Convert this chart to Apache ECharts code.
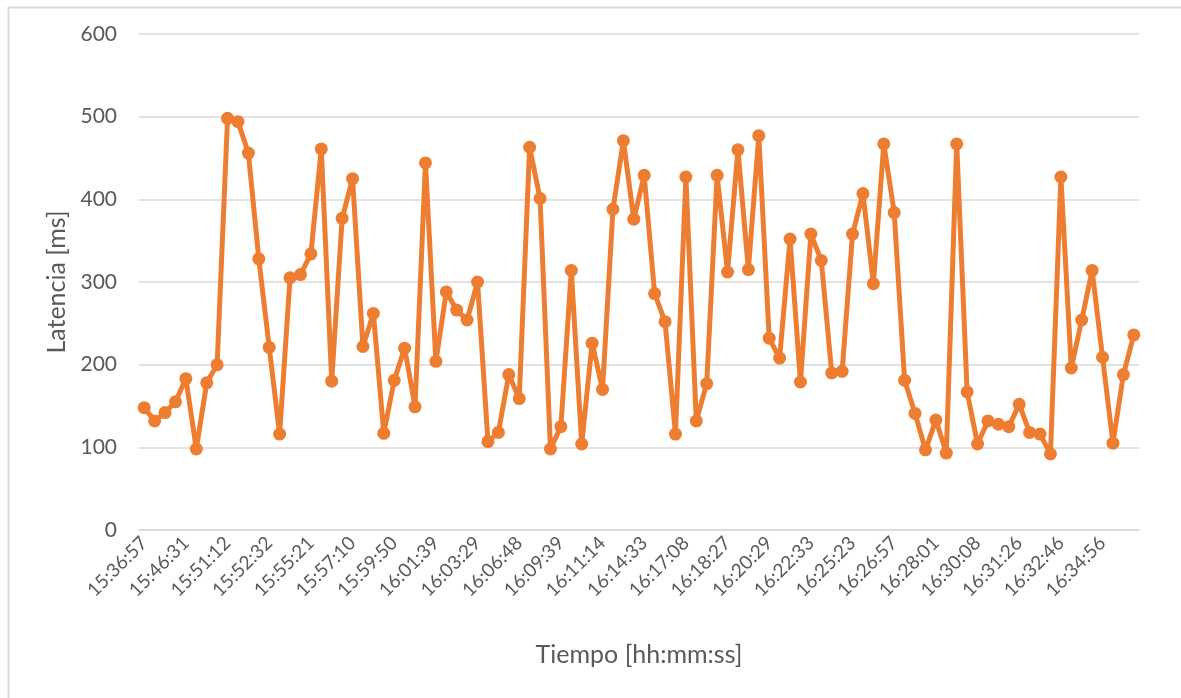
<!DOCTYPE html>
<html>
<head>
<meta charset="utf-8">
<script src="https://cdn.jsdelivr.net/npm/echarts@6/dist/echarts.min.js"></script>
<style>
  html, body { margin: 0; padding: 0; background: #fff; }
  #chart { width: 1181px; height: 698px; }
</style>
</head>
<body>
<div id="chart"></div>
<script>
// Latency samples (ms), one per measurement
const latencyMs = [
  148, 132, 142, 155, 183, 98, 178, 200, 498, 494,
  456, 328, 221, 116, 305, 309, 334, 461, 180, 377,
  425, 222, 262, 117, 181, 220, 149, 444, 204, 288,
  266, 254, 300, 107, 118, 188, 159, 463, 401, 98,
  125, 314, 104, 226, 170, 388, 471, 376, 429, 286,
  252, 116, 427, 132, 177, 429, 312, 460, 315, 477,
  232, 208, 352, 179, 358, 326, 190, 192, 358, 407,
  298, 467, 384, 181, 141, 97, 133, 93, 467, 167,
  104, 132, 128, 125, 152, 118, 116, 92, 427, 196,
  254, 314, 209, 105, 188, 236
];

// Time stamps shown on the axis (every fourth sample)
const tickLabels = [
  '15:36:57', '15:46:31', '15:51:12', '15:52:32', '15:55:21', '15:57:10',
  '15:59:50', '16:01:39', '16:03:29', '16:06:48', '16:09:39', '16:11:14',
  '16:14:33', '16:17:08', '16:18:27', '16:20:29', '16:22:33', '16:25:23',
  '16:26:57', '16:28:01', '16:30:08', '16:31:26', '16:32:46', '16:34:56'
];
const labelStep = 4;

const categories = latencyMs.map((_, i) =>
  i % labelStep === 0 ? tickLabels[i / labelStep] : '');

const yTicks = { min: 0, max: 600, interval: 100 };

const FONT = 'Lato, "Open Sans", sans-serif';
const TEXT = '#595959';
const GRID = '#D9D9D9';
const ORANGE = '#ED7D31';

const chart = echarts.init(document.getElementById('chart'), null, { renderer: 'canvas' });
chart.setOption({
  animation: false,
  backgroundColor: '#ffffff',
  graphic: [{
    type: 'rect',
    left: 6, top: 5,
    shape: { width: 1300, height: 900 },
    style: { fill: 'none', stroke: GRID, lineWidth: 2 },
    silent: true,
    z: -1
  }],
  grid: { left: 139, right: 42, top: 34, bottom: 168, containLabel: false },
  xAxis: {
    type: 'category',
    data: categories,
    boundaryGap: true,
    name: 'Tiempo [hh:mm:ss]',
    nameLocation: 'middle',
    nameGap: 112,
    nameTextStyle: { color: TEXT, fontSize: 25, fontFamily: FONT },
    axisLine: { show: true, lineStyle: { color: GRID, width: 1.5 } },
    axisTick: { show: false },
    axisLabel: {
      interval: labelStep - 1,
      rotate: 45,
      color: TEXT,
      fontSize: 19,
      fontFamily: FONT,
      margin: 10
    },
    splitLine: { show: false }
  },
  yAxis: {
    type: 'value',
    min: yTicks.min,
    max: yTicks.max,
    interval: yTicks.interval,
    name: 'Latencia [ms]',
    nameLocation: 'middle',
    nameGap: 70,
    nameRotate: 90,
    nameTextStyle: { color: TEXT, fontSize: 25, fontFamily: FONT },
    axisLine: { show: false },
    axisTick: { show: false },
    axisLabel: { color: TEXT, fontSize: 21, fontFamily: FONT, margin: 22 },
    splitLine: { lineStyle: { color: GRID, width: 1.5 } }
  },
  series: [{
    type: 'line',
    data: latencyMs,
    symbol: 'circle',
    symbolSize: 13,
    showAllSymbol: true,
    lineStyle: { color: ORANGE, width: 5, join: 'round' },
    itemStyle: { color: ORANGE, borderWidth: 0 },
    z: 3
  }]
});
</script>
</body>
</html>
